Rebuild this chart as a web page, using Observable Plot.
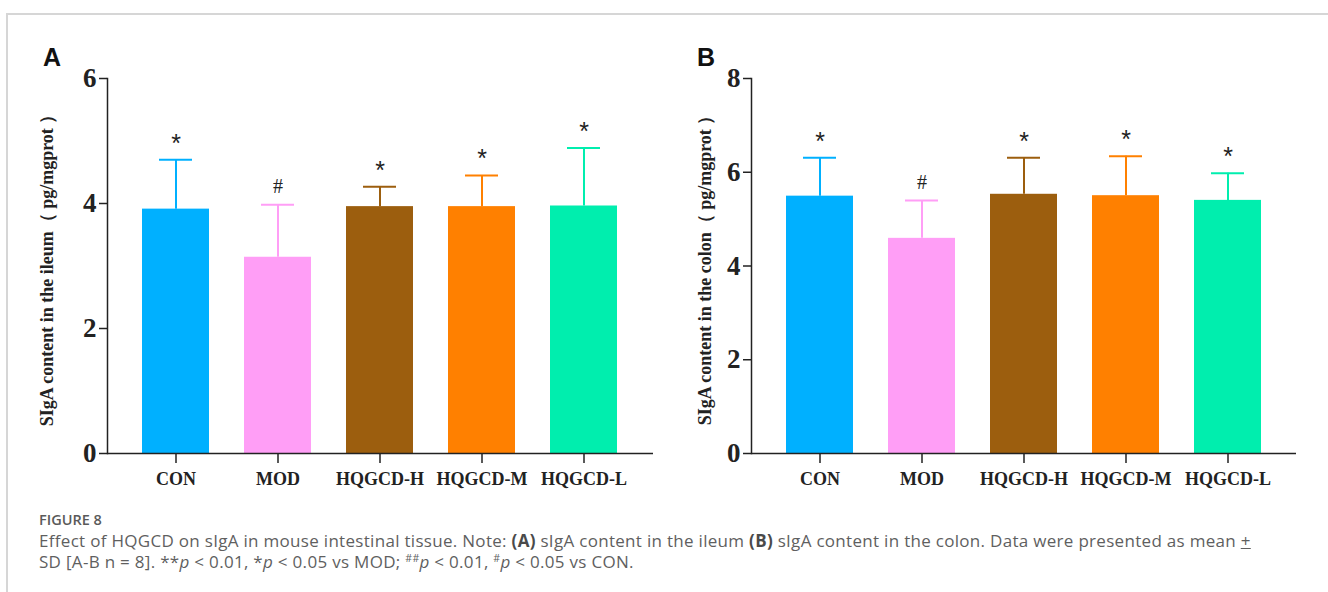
<!DOCTYPE html>
<html>
<head>
<meta charset="utf-8">
<script src="https://cdn.jsdelivr.net/npm/d3@7"></script>
<script src="https://cdn.jsdelivr.net/npm/@observablehq/plot@0.6"></script>
<style>
  body { margin: 0; background: #fff; }
  #wrap { position: relative; width: 1328px; height: 592px; overflow: hidden; background: #fff; }
  #frame { position: absolute; left: 6px; top: 13px; width: 1330px; height: 600px;
           border-top: 2px solid #d6d6d6; border-left: 2px solid #d6d6d6; }
  .panel { position: absolute; top: 0; }
  .letter { position: absolute; font-family: "Liberation Sans", Arial, sans-serif; font-weight: bold;
            font-size: 25px; line-height: 25px; color: #111; }
  #fig { position: absolute; left: 39px; top: 512px; font-family: "Open Sans", sans-serif; font-weight: 600;
         font-size: 14.5px; line-height: 16px; color: #5a5a5a; }
  #cap { position: absolute; left: 39px; top: 530px; font-family: "Open Sans", sans-serif; font-weight: 400;
         font-size: 17px; letter-spacing: 0.3px; line-height: 21px; color: #5f5f5f; white-space: nowrap; }
  #cap b { font-weight: 700; color: #4a4a4a; }
  #cap sup { font-size: 0.62em; line-height: 0; vertical-align: 0.6em; }
</style>
</head>
<body>
<div id="wrap">
  <div id="frame"></div>
  <div id="pA" class="panel" style="left:0px"></div>
  <div id="pB" class="panel" style="left:664px"></div>
  <div class="letter" style="left:43px; top:45px">A</div>
  <div class="letter" style="left:697px; top:45px">B</div>
  <div id="fig">FIGURE 8</div>
  <div id="cap">Effect of HQGCD on sIgA in mouse intestinal tissue. Note: <b>(A)</b> sIgA content in the ileum <b>(B)</b> sIgA content in the colon. Data were presented as mean <u>+</u><br>SD [A-B n = 8]. **<i>p</i> &lt; 0.01, *<i>p</i> &lt; 0.05 vs MOD; <sup>##</sup><i>p</i> &lt; 0.01, <sup>#</sup><i>p</i> &lt; 0.05 vs CON.</div>
</div>
<script>
const groups = ["CON", "MOD", "HQGCD-H", "HQGCD-M", "HQGCD-L"];
const colors = ["#00B0FF", "#FF9EF6", "#9C5E0E", "#FF8000", "#00EEAE"];

const ileumMean = [3.91, 3.14, 3.95, 3.95, 3.96];
const ileumSD   = [0.79, 0.84, 0.32, 0.50, 0.93];
const ileumSig  = ["*", "#", "*", "*", "*"];
const ileumTicks = [0, 2, 4, 6];

const colonMean = [5.49, 4.59, 5.53, 5.50, 5.40];
const colonSD   = [0.82, 0.81, 0.78, 0.84, 0.58];
const colonSig  = ["*", "#", "*", "*", "*"];
const colonTicks = [0, 2, 4, 6, 8];

const ileumLabel = "SIgA content in the ileum（ pg/mgprot ）";
const colonLabel = "SIgA content in the colon（ pg/mgprot ）";

function panel({means, sds, sig, ticks, domain, label, marginLeft, marginRight, labelDx}) {
  const data = groups.map((g, i) => ({group: g, mean: means[i], upper: means[i] + sds[i], sig: sig[i]}));
  const stars = data.filter(d => d.sig === "*");
  const hashes = data.filter(d => d.sig === "#");
  return Plot.plot({
    width: 664, height: 500,
    marginTop: 78, marginBottom: 47, marginLeft, marginRight,
    style: {fontFamily: '"Liberation Serif", "Times New Roman", serif', overflow: "visible", background: "transparent", color: "#222"},
    x: {domain: groups, padding: 0.34, label: null},
    y: {domain, label: null},
    color: {domain: groups, range: colors},
    marks: [
      Plot.ruleX(data, {x: "group", y1: "mean", y2: "upper", stroke: "group", strokeWidth: 2}),
      Plot.tickY(data, {x: "group", y: "upper", stroke: "group", strokeWidth: 2, insetLeft: 17, insetRight: 17}),
      Plot.barY(data, {x: "group", y: "mean", fill: "group"}),
      Plot.text(stars, {x: "group", y: "upper", text: "sig", dy: -16, fontSize: 25, fontFamily: '"Liberation Sans", Arial, sans-serif', fill: "#222"}),
      Plot.text(hashes, {x: "group", y: "upper", text: "sig", dy: -18, fontSize: 20, fontFamily: '"Liberation Serif", serif', fill: "#222"}),
      Plot.axisY({ticks, tickFormat: d => String(d), tickSize: 8, tickPadding: 3, fontSize: 27, fontWeight: "bold", label: null, strokeWidth: 1.5}),
      Plot.axisX({tickSize: 10, tickPadding: 9, fontSize: 18, fontWeight: "bold", label: null, strokeWidth: 1.5}),
      Plot.frame({anchor: "left", strokeWidth: 1.5}),
      Plot.ruleY([0], {strokeWidth: 1.5}),
      Plot.text([label], {text: d => d, frameAnchor: "left", dx: labelDx, rotate: -90, fontSize: 18, fontWeight: "bold", textAnchor: "middle", fill: "#222"})
    ]
  });
}

document.getElementById("pA").append(panel({
  means: ileumMean, sds: ileumSD, sig: ileumSig, ticks: ileumTicks, domain: [0, 6],
  label: ileumLabel, marginLeft: 107, marginRight: 11, labelDx: -60
}));
document.getElementById("pB").append(panel({
  means: colonMean, sds: colonSD, sig: colonSig, ticks: colonTicks, domain: [0, 8],
  label: colonLabel, marginLeft: 87, marginRight: 32, labelDx: -46
}));
</script>
</body>
</html>
